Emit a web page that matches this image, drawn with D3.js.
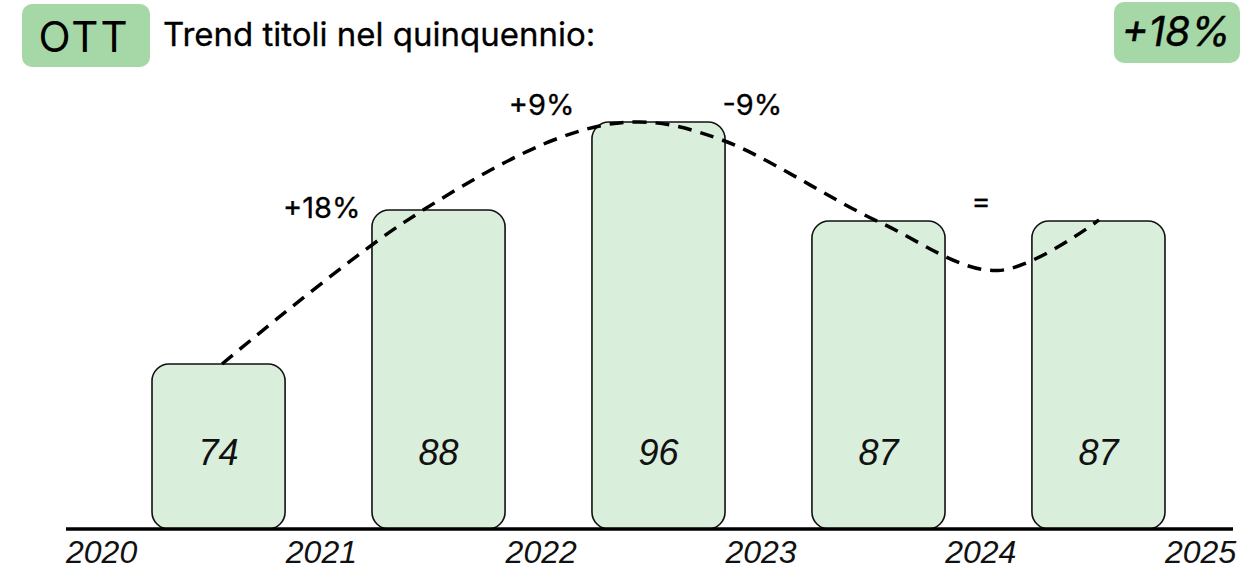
<!DOCTYPE html>
<html>
<head>
<meta charset="utf-8">
<script src="https://cdn.jsdelivr.net/npm/d3@7"></script>
<style>
  html, body { margin: 0; padding: 0; background: #fff; }
  svg { display: block; }
</style>
</head>
<body>
<div id="chart"></div>
<script>
// dati
var years = [2020, 2021, 2022, 2023, 2024, 2025];
var barYears = [2020, 2021, 2022, 2023, 2024];
var barValues = [74, 88, 96, 87, 87];
var changeLabels = ["+18%", "+9%", "-9%", "="];
var changeYears = [2021, 2022, 2023, 2024];
var totalChange = "+18%";
var segment = "OTT";
var titleText = "Trend titoli nel quinquennio:";

// linea di tendenza (anno frazionario / valore)
var trendYears = [2020.71, 2021.54, 2022.25, 2022.61, 2022.98, 2023.70, 2024.24, 2024.70];
var trendValues = [74, 86.9, 94.6, 96.0, 94.4, 86.9, 82.5, 87.1];

var width = 1258;
var height = 571;
var baseline = 529;
var labelDx = [0, 0, -9, 0];
var labelDy = [8, -7, -7, -10];
var sansFont = "Inter, 'Noto Sans', sans-serif";
var italicFont = "'Liberation Sans', Arial, sans-serif";

var svg = d3.select("#chart")
  .append("svg")
  .attr("width", width)
  .attr("height", height);

var xTick = d3.scaleLinear()
  .domain([2020, 2025])
  .range([66, 1165]);

var xBar = d3.scaleBand()
  .domain(barYears)
  .range([xTick(2020) + 86, xTick(2025)])
  .paddingInner(0.395)
  .paddingOuter(0);

var y = d3.scaleLinear()
  .domain([59, 96])
  .range([baseline, 122]);

// intestazione
svg.append("rect")
  .attr("x", 22).attr("y", 4)
  .attr("width", 128).attr("height", 63)
  .attr("rx", 10)
  .attr("fill", "#a5d8a6");

svg.append("text")
  .attr("x", 84).attr("y", 52)
  .attr("text-anchor", "middle")
  .attr("font-family", sansFont)
  .attr("font-size", 42)
  .attr("letter-spacing", 2)
  .text(segment);

svg.append("text")
  .attr("x", 163).attr("y", 46)
  .attr("font-family", sansFont)
  .attr("font-size", 33)
  .attr("stroke", "#000")
  .attr("stroke-width", 0.3)
  .text(titleText);

svg.append("rect")
  .attr("x", 1114).attr("y", 2)
  .attr("width", 126).attr("height", 61)
  .attr("rx", 10)
  .attr("fill", "#a5d8a6");

svg.append("text")
  .attr("x", 1176).attr("y", 46)
  .attr("text-anchor", "middle")
  .attr("font-family", sansFont)
  .attr("font-style", "italic")
  .attr("font-size", 41)
  .attr("stroke", "#000")
  .attr("stroke-width", 0.4)
  .text(totalChange);

// barre
var bars = svg.selectAll(".bar")
  .data(barYears)
  .enter()
  .append("g")
  .attr("class", "bar");

bars.append("rect")
  .attr("x", function (d) { return xBar(d); })
  .attr("y", function (d, i) { return y(barValues[i]); })
  .attr("width", xBar.bandwidth())
  .attr("height", function (d, i) { return baseline - y(barValues[i]); })
  .attr("rx", 17)
  .attr("fill", "#d9eedb")
  .attr("stroke", "#111")
  .attr("stroke-width", 1.6);

bars.append("text")
  .attr("x", function (d) { return xBar(d) + xBar.bandwidth() / 2; })
  .attr("y", 465)
  .attr("text-anchor", "middle")
  .attr("font-family", italicFont)
  .attr("font-style", "italic")
  .attr("font-size", 36)
  .attr("fill", "#111")
  .text(function (d, i) { return barValues[i]; });

// asse
svg.append("line")
  .attr("x1", xTick(2020)).attr("x2", 1233)
  .attr("y1", baseline).attr("y2", baseline)
  .attr("stroke", "#000")
  .attr("stroke-width", 3.5);

svg.selectAll(".year")
  .data(years)
  .enter()
  .append("text")
  .attr("class", "year")
  .attr("x", function (d) { return xTick(d); })
  .attr("y", 563)
  .attr("font-family", italicFont)
  .attr("font-style", "italic")
  .attr("font-size", 32)
  .attr("fill", "#111")
  .text(function (d) { return d; });

// linea tratteggiata
var trend = trendYears.map(function (t, i) { return [xTick(t), y(trendValues[i])]; });

svg.append("path")
  .datum(trend)
  .attr("d", d3.line().curve(d3.curveCatmullRom.alpha(0.5)))
  .attr("fill", "none")
  .attr("stroke", "#000")
  .attr("stroke-width", 3.5)
  .attr("stroke-dasharray", "14 9");

// variazioni: sopra la barra più alta delle due
svg.selectAll(".change")
  .data(changeLabels)
  .enter()
  .append("text")
  .attr("class", "change")
  .attr("x", function (d, i) { return xTick(changeYears[i]) + 36 + labelDx[i]; })
  .attr("y", function (d, i) {
    var k = barYears.indexOf(changeYears[i]);
    return y(Math.max(barValues[k], barValues[k - 1])) + labelDy[i];
  })
  .attr("text-anchor", "middle")
  .attr("font-family", sansFont)
  .attr("font-size", 29)
  .attr("stroke", "#000")
  .attr("stroke-width", 0.3)
  .text(function (d) { return d; });
</script>
</body>
</html>
